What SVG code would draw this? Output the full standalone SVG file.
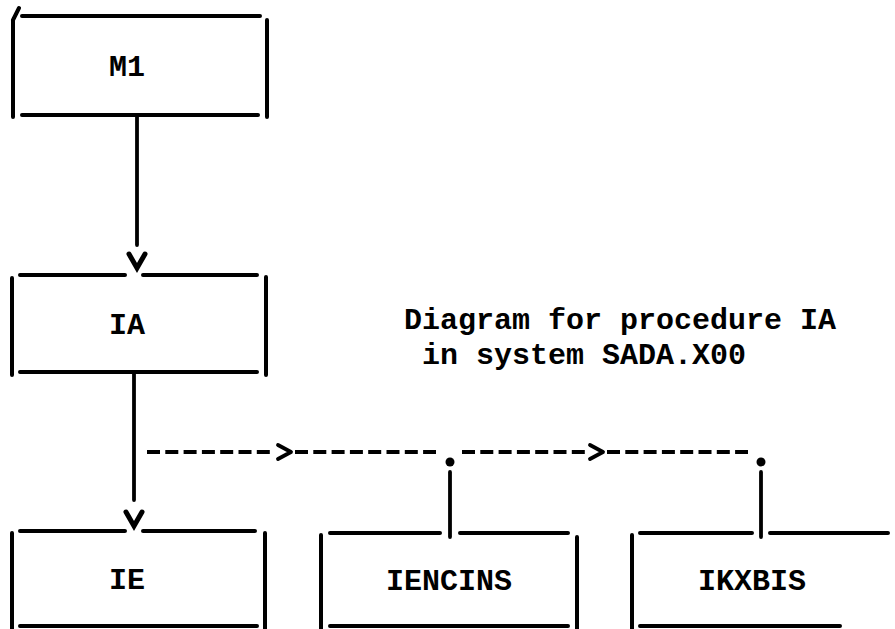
<svg xmlns="http://www.w3.org/2000/svg" width="895" height="629" viewBox="0 0 895 629">
<style>
.bx{stroke:#000;stroke-width:4;fill:none;stroke-linecap:round}
.cn{stroke:#000;stroke-width:3.8;fill:none;stroke-linecap:round;stroke-linejoin:round}
.hd{stroke:#000;stroke-width:5;fill:none;stroke-linecap:round;stroke-linejoin:miter}
.ds{stroke:#000;stroke-width:4;fill:none;stroke-dasharray:13 5.3}
.lb{font-family:"Liberation Mono","Courier New",monospace;font-weight:bold;font-size:30px;fill:#000}
</style>
<rect width="895" height="629" fill="#fff"/>
<g id="M1">
<path class="bx" d="M22 16H260M22 115H258M13 20V117M267 20V117M13 20L19 8"/>
<text class="lb" x="109" y="76">M1</text>
</g>
<g id="IA">
<path class="bx" d="M20 275H125M143 275H257M20 372H257M12 278V375M266 277V375"/>
<text class="lb" x="109" y="334">IA</text>
</g>
<g id="IE">
<path class="bx" d="M20 531H125M143 531H255M20 626H257M12 533V629M265 533V629"/>
<text class="lb" x="109" y="589">IE</text>
</g>
<g id="IENCINS">
<path class="bx" d="M330 533H440M460 533H568M330 626H568M321 535V629M577 537V629"/>
<text class="lb" x="386" y="590">IENCINS</text>
</g>
<g id="IKXBIS">
<path class="bx" d="M640 533H752M770 533H888M640 626H840M632 535V629"/>
<text class="lb" x="698" y="590">IKXBIS</text>
</g>
<g id="note">
<text class="lb" x="404" y="329">Diagram for procedure IA</text>
<text class="lb" x="404" y="364" xml:space="preserve"> in system SADA.X00</text>
</g>
<g id="connectors">
<path class="cn" d="M137 116V245"/>
<path class="hd" d="M129 254L137 268L145 254"/>
<path class="cn" d="M134 373V500"/>
<path class="hd" d="M126 512L134 526L142 512"/>
<line class="ds" x1="147" y1="452" x2="271" y2="452"/>
<path class="cn" d="M278 445L291 452L278 459"/>
<line class="ds" x1="295" y1="452" x2="436" y2="452"/>
<circle cx="450" cy="462" r="4.5"/>
<line class="ds" x1="462" y1="452" x2="585" y2="452"/>
<path class="cn" d="M590 445L603 452L590 459"/>
<line class="ds" x1="607" y1="452" x2="748" y2="452"/>
<circle cx="761" cy="462" r="4.5"/>
<path class="cn" d="M450 472V537"/>
<path class="cn" d="M761 472V537"/>
</g>
</svg>
